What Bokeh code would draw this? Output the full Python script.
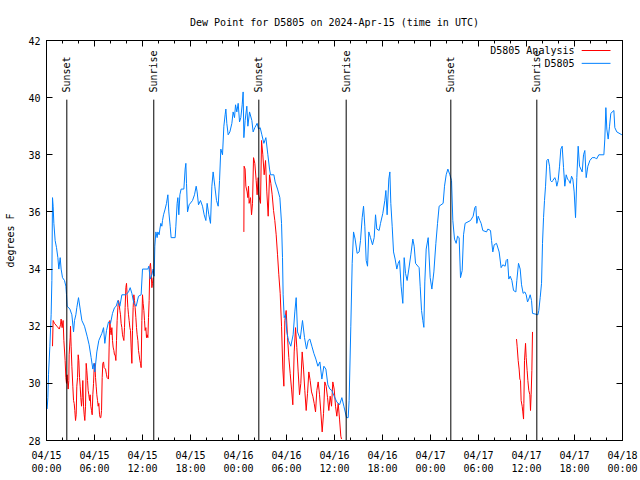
from math import pi
from bokeh.plotting import figure
from bokeh.models import Range1d, FixedTicker, LinearAxis, CustomJSTickFormatter
from bokeh.embed import file_html
from bokeh.resources import INLINE
from bokeh.core.properties import value

# ---------------- data (hours since 2024-04-15 00:00 UTC, degrees F) ----------------
obs_hours = [0.08, 0.17, 0.25, 0.42, 0.58, 0.67, 0.75, 0.83, 0.92, 1.08, 1.25, 1.42, 1.54, 1.71, 1.83,
             2.0, 2.25, 2.42, 2.5, 2.58, 2.92, 3.17, 3.38, 3.5, 3.67, 3.79, 4.0, 4.21, 4.42, 4.75,
             5.08, 5.33, 5.58, 5.79, 5.92, 6.04, 6.29, 6.54, 6.92, 7.13, 7.29, 7.5, 7.75, 8.0, 8.25,
             8.5, 8.71, 8.92, 9.17, 9.42, 9.92, 10.25, 10.46, 10.67, 10.92, 11.21, 11.5, 11.83, 12.0,
             12.67, 12.79, 12.96, 13.17, 13.33, 13.46, 13.54, 13.67, 13.83, 13.92, 14.08, 14.17, 14.29,
             14.42, 14.5, 14.63, 14.83, 15.0, 15.17, 15.29, 15.46, 15.58, 16.08, 16.17, 16.33, 16.42,
             16.54, 16.67, 16.83, 17.17, 17.33, 17.42, 17.5, 17.63, 17.83, 18.25, 18.5, 18.71, 18.83,
             19.0, 19.25, 19.5, 19.71, 19.92, 20.08, 20.29, 20.5, 20.67, 20.83, 21.04, 21.25, 21.46,
             21.63, 21.79, 22.0, 22.17, 22.33, 22.42, 22.54, 22.71, 22.92, 23.17, 23.33, 23.5, 23.63,
             23.79, 23.96, 24.13, 24.29, 24.46, 24.58, 24.67, 24.83, 25.04, 25.17, 25.38, 25.67, 25.83,
             26.04, 26.33, 26.5, 26.71, 26.92, 27.17, 27.42, 27.67, 27.88, 28.0, 28.42, 28.58, 28.88,
             29.17, 29.38, 29.5, 29.58, 29.71, 29.88, 30.04, 30.25, 30.54, 30.83, 31.04, 31.21, 31.38,
             31.71, 32.0, 32.25, 32.5, 32.71, 32.92, 33.17, 33.42, 33.67, 33.92, 34.17, 34.42, 34.67,
             34.92, 35.17, 35.42, 35.67, 35.96, 36.29, 36.63, 36.92, 37.17, 37.5, 37.71, 37.83, 38.04,
             38.21, 38.38, 38.58, 38.83, 39.08, 39.25, 39.46, 39.63, 39.79, 39.96, 40.13, 40.29, 40.5,
             40.75, 40.96, 41.13, 41.29, 41.58, 41.75, 42.04, 42.29, 42.42, 42.58, 42.79, 42.92, 43.04,
             43.21, 43.38, 43.58, 43.79, 43.96, 44.13, 44.33, 44.54, 44.71, 44.88, 45.08, 45.29, 45.54,
             45.79, 45.96, 46.13, 46.58, 46.71, 46.88, 47.04, 47.17, 47.29, 47.46, 47.71, 47.96, 48.17,
             48.42, 48.67, 48.88, 49.08, 49.58, 49.75, 49.96, 50.17, 50.42, 50.63, 50.79, 51.0, 51.21,
             51.38, 51.58, 51.75, 51.96, 52.13, 52.33, 53.0, 53.33, 53.54, 53.67, 53.79, 53.96, 54.17,
             54.33, 54.54, 55.0, 55.17, 55.5, 55.63, 55.79, 55.96, 56.25, 56.58, 56.83, 57.04, 57.33,
             57.46, 57.63, 57.79, 57.96, 58.17, 58.38, 58.67, 58.79, 59.0, 59.21, 59.38, 59.58, 59.79,
             59.96, 60.13, 60.29, 60.46, 60.63, 60.75, 61.42, 61.54, 61.71, 61.88, 62.0, 62.13, 62.25,
             62.38, 62.54, 62.71, 62.88, 63.0, 63.17, 63.29, 63.54, 63.67, 63.79, 63.96, 64.13, 64.29,
             64.46, 64.63, 64.79, 64.96, 65.13, 65.29, 65.46, 65.63, 65.79, 65.96, 66.13, 66.29, 66.46,
             66.63, 66.96, 67.13, 67.29, 67.46, 67.67, 67.92, 68.21, 68.58, 68.75, 69.04, 69.67, 69.79,
             69.92, 70.04, 70.21, 70.38, 70.54, 70.92, 71.04, 71.29, 71.92]
obs_dewpt = [29.1, 29.5, 30.3, 31.3, 32.4, 33.6, 36.5, 36.2, 35.6, 35.0, 34.75, 34.4, 34.0, 34.4, 34.0,
             33.7, 33.6, 33.4, 33.1, 32.7, 32.6, 32.4, 31.8, 32.2, 32.4, 32.65, 33.0, 32.6, 32.2, 32.0,
             31.65, 31.35, 30.9, 30.5, 30.7, 30.4, 31.1, 31.5, 31.75, 31.95, 31.4, 31.85, 32.15, 32.1, 32.45,
             32.65, 32.7, 32.9, 32.7, 33.1, 33.1, 33.2, 33.35, 33.15, 32.8, 32.7, 33.05, 33.1, 34.0,
             34.0, 34.1, 33.65, 33.8, 34.0, 33.75, 34.8, 35.3, 35.1, 35.3, 35.2, 35.4, 35.6,
             35.5, 35.7, 35.9, 36.1, 36.3, 36.6, 36.0, 35.5, 35.1, 35.1, 35.5, 36.3, 36.5,
             35.9, 36.6, 36.8, 36.8, 37.5, 37.7, 37.0, 36.0, 36.25, 36.4, 36.6, 36.9, 36.7,
             36.25, 36.4, 36.2, 35.9, 35.7, 36.3, 35.9, 35.6, 36.9, 37.4, 36.9, 36.4, 36.2,
             37.1, 38.2, 38.0, 39.0, 39.4, 39.6, 39.1, 38.7, 38.8, 39.1, 39.5, 39.3, 39.75,
             39.5, 39.8, 39.15, 39.3, 39.75, 40.2, 38.6, 39.2, 39.7, 39.0, 39.5, 39.2, 38.8,
             38.95, 39.1, 38.9, 38.95, 38.7, 38.4, 38.6, 38.0, 37.5, 37.3, 37.3, 37.05, 36.8,
             36.5, 35.6, 34.4, 33.1, 32.3, 32.4, 31.8, 31.5, 31.3, 31.7, 32.5, 33.0, 31.8,
             31.55, 32.2, 31.6, 31.2, 31.5, 31.55, 31.3, 31.05, 30.85, 30.6, 30.75, 30.15, 30.6,
             30.5, 29.95, 29.8, 29.75, 29.55, 29.35, 29.25, 29.5, 29.2, 28.8, 28.8, 29.4, 32.0,
             34.2, 35.3, 35.05, 34.55, 34.6, 35.0, 35.8, 36.2, 35.5, 34.3, 34.1, 35.3, 35.1,
             34.85, 35.1, 35.9, 35.4, 35.35, 35.6, 35.95, 36.4, 36.75, 35.9, 37.15, 37.4, 36.3,
             35.5, 34.6, 34.35, 34.0, 34.2, 34.3, 33.4, 32.8, 34.4, 33.85, 33.6, 34.0, 34.5,
             35.05, 34.8, 34.2, 34.05, 33.4, 32.55, 32.2, 31.96, 33.55, 34.7, 35.1, 33.7, 33.3,
             33.9, 34.9, 35.6, 36.2, 36.3, 36.9, 37.3, 37.5, 37.3, 37.1, 35.7, 35.05, 34.9,
             35.15, 35.1, 33.7, 33.95, 35.2, 35.6, 35.7, 35.85, 36.15, 36.2, 35.6, 35.85, 35.7,
             35.6, 35.35, 35.3, 35.4, 35.35, 35.0, 34.6, 34.85, 34.9, 34.6, 34.05, 34.15, 34.1,
             34.3, 34.35, 33.65, 33.75, 33.6, 33.25, 33.2, 33.6, 34.2, 34.0, 33.45, 33.15, 33.2,
             33.1, 32.85, 32.95, 33.1, 32.9, 32.45, 32.4, 32.55, 33.0, 33.5, 34.9, 35.8, 36.4,
             36.9, 37.8, 37.85, 37.6, 37.1, 37.05, 37.1, 37.2, 37.1, 36.9, 37.1, 37.6, 38.2,
             38.3, 37.55, 36.9, 37.3, 37.15, 37.1, 37.0, 37.25, 37.15, 36.7, 35.8, 37.2, 38.3,
             37.6, 37.4, 38.0, 38.15, 37.2, 37.6, 37.8, 37.9, 37.9, 37.85, 38.0, 38.0, 38.55,
             39.65, 38.9, 38.55, 39.0, 39.45, 39.55, 38.95, 38.8, 38.7]

# analysis series comes in three separate runs
ana1_hours = [0.75, 0.83, 1.0, 1.3, 1.6, 1.75, 1.83, 1.95, 2.08, 2.17, 2.33, 2.42, 2.5, 2.58, 2.71, 2.79,
              2.83, 2.96, 3.0, 3.08, 3.17, 3.29, 3.38, 3.46, 3.54, 3.63, 3.71, 3.79, 3.88, 3.96, 4.04,
              4.13, 4.21, 4.29, 4.38, 4.46, 4.54, 4.63, 4.71, 4.79, 4.88, 4.96, 5.04, 5.13, 5.21, 5.29,
              5.38, 5.46, 5.54, 5.63, 5.71, 5.79, 5.88, 5.96, 6.04, 6.13, 6.21, 6.29, 6.38, 6.46, 6.54,
              6.63, 6.71, 6.79, 6.88, 6.96, 7.04, 7.13, 7.21, 7.38, 7.5, 7.58, 7.75, 7.83, 7.92, 8.0,
              8.08, 8.17, 8.25, 8.33, 8.42, 8.5, 8.58, 8.67, 8.75, 8.83, 8.92, 9.0, 9.08, 9.17, 9.25,
              9.33, 9.42, 9.5, 9.58, 9.67, 9.75, 9.83, 9.92, 10.0, 10.08, 10.17, 10.25, 10.33, 10.42,
              10.5, 10.58, 10.67, 10.75, 10.83, 10.92, 11.0, 11.08, 11.17, 11.25, 11.33, 11.42, 11.5,
              11.58, 11.67, 11.75, 11.83, 11.92, 12.0, 12.08, 12.17, 12.25, 12.33, 12.42, 12.5, 12.58,
              12.67, 12.75, 12.83, 12.92, 13.0, 13.08, 13.17, 13.25, 13.33]
ana1_dewpt = [31.3, 32.2, 32.1, 32.0, 31.9, 32.05, 32.25, 31.95, 32.2, 31.5, 30.8, 30.2, 30.0, 30.3, 29.8, 30.1,
              31.0, 31.6, 32.0, 31.3, 30.6, 29.9, 29.4, 29.3, 29.05, 28.7, 28.9, 29.9, 30.2, 31.0, 30.8,
              30.2, 29.9, 29.5, 29.2, 29.5, 30.1, 29.2, 28.9, 28.7, 29.2, 30.7, 30.45, 30.1, 29.75, 29.6,
              29.4, 29.6, 29.2, 29.05, 28.9, 29.6, 30.0, 30.55, 30.7, 30.2, 29.9, 29.6, 29.4, 29.2, 29.3,
              28.9, 28.8, 28.8, 29.05, 30.2, 30.7, 30.75, 30.55, 30.5, 30.3, 30.2, 30.15, 31.27, 32.2, 31.85,
              31.7, 31.95, 31.5, 31.27, 31.15, 31.0, 31.0, 30.8, 31.5, 32.2, 32.65, 32.9, 32.8, 32.55, 32.4,
              32.1, 31.95, 31.7, 31.6, 31.5, 31.95, 32.65, 33.35, 33.5, 33.1, 32.65, 32.4, 32.2, 31.95,
              31.85, 31.27, 30.7, 31.85, 32.65, 33.1, 32.9, 32.65, 32.3, 31.95, 31.7, 31.5, 31.15,
              31.0, 30.8, 30.7, 30.55, 32.2, 33.1, 32.8, 32.55, 32.2, 31.85, 31.95, 31.6, 31.7,
              31.6, 32.3, 32.9, 34.1, 34.2, 33.9, 33.35, 33.5, 33.7]

ana2_hours = [24.67, 24.7, 24.83, 24.92, 25.08, 25.17, 25.25, 25.33, 25.5, 25.63, 25.75, 25.88, 26.04,
              26.21, 26.33, 26.46, 26.54, 26.67, 26.75, 26.88, 27.04, 27.21, 27.38, 27.54, 27.71, 27.88,
              28.04, 28.21, 28.38, 28.54, 28.71, 28.88, 29.04, 29.21, 29.38, 29.54, 29.67, 29.79, 29.96,
              30.13, 30.29, 30.46, 30.63, 30.79, 30.96, 31.13, 31.29, 31.46, 31.63, 31.79, 31.96, 32.13,
              32.29, 32.46, 32.63, 32.79, 32.96, 33.13, 33.29, 33.46, 33.63, 33.79, 33.96, 34.13, 34.29,
              34.46, 34.63, 34.79, 34.96, 35.13, 35.29, 35.46, 35.63, 35.79, 35.96, 36.13, 36.29, 36.46,
              36.63, 36.79, 36.88]
ana2_dewpt = [35.3, 37.6, 37.5, 36.9, 36.7, 36.5, 36.9, 36.3, 36.5, 35.9, 36.3, 37.9, 37.7,
              37.1, 36.6, 37.2, 36.6, 36.4, 36.3, 38.5, 38.0, 37.3, 37.8, 36.7, 35.85, 37.3,
              37.0, 36.6, 36.05, 35.7, 35.2, 34.5, 33.8, 33.15, 32.0, 30.5, 29.9, 32.2, 32.55,
              31.6, 30.9, 30.35, 29.8, 29.25, 31.1, 31.95, 31.25, 30.4, 29.6, 30.0, 31.1, 30.5,
              29.75, 29.05, 29.65, 30.4, 30.1, 29.7, 29.55, 29.3, 29.0, 29.75, 30.05, 29.6, 29.0,
              28.3, 28.95, 30.05, 29.9, 29.5, 29.05, 29.55, 29.2, 30.05, 29.8, 29.2, 28.85, 29.3,
              28.75, 28.15, 28.05]

ana3_hours = [58.75, 58.83, 58.96, 59.08, 59.17, 59.25, 59.33, 59.46, 59.54, 59.63, 59.67, 59.75, 59.88,
              59.96, 60.08, 60.17, 60.29, 60.42, 60.5, 60.58, 60.67, 60.75]
ana3_dewpt = [31.55, 31.3, 30.8, 30.5, 30.15, 30.1, 29.4, 29.2, 29.0, 28.75, 29.3, 30.8, 31.4,
              30.9, 30.45, 30.1, 29.75, 29.6, 29.05, 29.6, 30.45, 31.8]

sun_hours = [2.54, 13.41, 26.54, 37.46, 50.54, 61.29]
sun_labels = ["Sunset", "Sunrise", "Sunset", "Sunrise", "Sunset", "Sunrise"]

x_tick_hours = [0, 6, 12, 18, 24, 30, 36, 42, 48, 54, 60, 66, 72]
x_tick_labels = ["04/15\n00:00", "04/15\n06:00", "04/15\n12:00", "04/15\n18:00",
                 "04/16\n00:00", "04/16\n06:00", "04/16\n12:00", "04/16\n18:00",
                 "04/17\n00:00", "04/17\n06:00", "04/17\n12:00", "04/17\n18:00",
                 "04/18\n00:00"]
x_minor_hours = list(range(0, 73, 2))
y_ticks = [28, 30, 32, 34, 36, 38, 40, 42]

series_names = ["D5805 Analysis", "D5805"]
RED = "#ff0000"
BLUE = "#0080ff"
FONT = "DejaVu Sans Mono"
FS = "10px"

# ---------------- figure ----------------
p = figure(width=640, height=480, output_backend="svg", toolbar_location=None,
           x_range=Range1d(0, 72), y_range=Range1d(28, 42),
           min_border_left=46, min_border_right=18, min_border_top=40, min_border_bottom=40,
           background_fill_color="white", border_fill_color="white")
p.outline_line_color = "black"
p.xgrid.visible = False
p.ygrid.visible = False

p.title.text = "Dew Point for D5805 on 2024-Apr-15 (time in UTC)"
p.title.align = "center"
p.title.text_font = FONT
p.title.text_font_size = FS
p.title.text_font_style = "normal"
p.title.text_color = "black"
p.title.standoff = 25

def style_axis(ax):
    ax.axis_line_color = "black"
    ax.major_tick_line_color = "black"
    ax.minor_tick_line_color = "black"
    ax.major_tick_in = 6
    ax.major_tick_out = 0
    ax.minor_tick_in = 3
    ax.minor_tick_out = 0
    ax.major_label_text_font = FONT
    ax.major_label_text_font_size = FS
    ax.major_label_text_color = "black"
    ax.axis_label_text_font = FONT
    ax.axis_label_text_font_size = FS
    ax.axis_label_text_font_style = "normal"
    ax.axis_label_text_color = "black"

xticker = FixedTicker(ticks=x_tick_hours, minor_ticks=x_minor_hours)
yticker = FixedTicker(ticks=y_ticks, minor_ticks=[])

xa = p.xaxis[0]
xa.ticker = xticker
xa.major_label_overrides = {float(h): lab for h, lab in zip(x_tick_hours, x_tick_labels)}
xa.major_label_standoff = 9
style_axis(xa)

ya = p.yaxis[0]
ya.ticker = yticker
ya.axis_label = "degrees F"
ya.major_label_standoff = 6
ya.axis_label_standoff = 9
style_axis(ya)

blank = CustomJSTickFormatter(code="return ''")
top = LinearAxis(ticker=xticker, formatter=blank, major_label_standoff=0)
style_axis(top)
p.add_layout(top, "above")
right = LinearAxis(ticker=yticker, formatter=blank, major_label_standoff=0)
style_axis(right)
p.add_layout(right, "right")

# data lines
p.line(ana1_hours, ana1_dewpt, line_color=RED, line_width=1)
p.line(ana2_hours, ana2_dewpt, line_color=RED, line_width=1)
p.line(ana3_hours, ana3_dewpt, line_color=RED, line_width=1)
p.line(obs_hours, obs_dewpt, line_color=BLUE, line_width=1)

# sunrise / sunset markers
p.segment(x0=sun_hours, x1=sun_hours, y0=[28] * len(sun_hours), y1=[39.93] * len(sun_hours),
          line_color="black", line_width=1)
p.text(x=sun_hours, y=[40.18] * len(sun_hours), text=sun_labels, angle=pi / 2,
       text_align="left", text_baseline="middle", text_font=value(FONT),
       text_font_size=FS, text_color="black")

# gnuplot-style key (text then line sample) in the top-right corner
key_y = [41.65, 41.2]
p.text(x=[66.0, 66.0], y=key_y, text=series_names, text_align="right", text_baseline="middle",
       text_font=value(FONT), text_font_size=FS, text_color="black")
p.segment(x0=[66.9, 66.9], x1=[70.5, 70.5], y0=key_y, y1=key_y, line_color=[RED, BLUE], line_width=1)

open("out.html", "w").write(file_html(p, INLINE))
